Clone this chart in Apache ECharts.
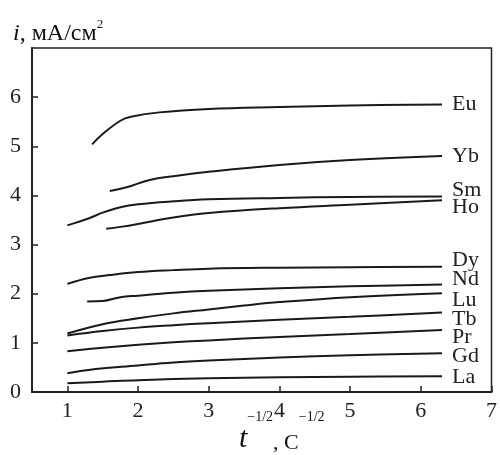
<!DOCTYPE html>
<html><head><meta charset="utf-8">
<script src="https://cdn.jsdelivr.net/npm/echarts@6/dist/echarts.min.js"></script>
<style>html,body{margin:0;padding:0;background:#fff}#c{width:500px;height:455px}</style>
</head><body><div id="c"></div>
<script>
const xTicks = [1, 2, 3, 4, 5, 6, 7];
const yTicks = [0, 1, 2, 3, 4, 5, 6];
const names = ['Eu','Yb','Sm','Ho','Dy','Nd','Lu','Tb','Pr','Gd','La'];
const Eu = [[1.35,5.04],[1.5,5.25],[1.75,5.52],[1.9,5.6],[2.3,5.69],[3,5.76],[4,5.8],[5,5.83],[6.3,5.85]];
const Yb = [[1.6,4.09],[1.85,4.17],[2.15,4.31],[2.55,4.40],[3,4.48],[4,4.62],[5,4.72],[6.3,4.8]];
const Sm = [[1,3.39],[1.15,3.46],[1.3,3.53],[1.5,3.65],[1.75,3.76],[2,3.82],[2.5,3.88],[3,3.92],[4,3.95],[5,3.97],[6.3,3.98]];
const Ho = [[1.55,3.32],[1.75,3.36],[2,3.42],[2.5,3.55],[3,3.64],[4,3.74],[5,3.81],[6.3,3.9]];
const Dy = [[1,2.2],[1.3,2.32],[1.6,2.38],[2,2.44],[2.5,2.48],[3,2.51],[4,2.53],[5,2.54],[6.3,2.55]];
const Nd = [[1.28,1.84],[1.5,1.85],[1.75,1.93],[2,1.96],[2.5,2.02],[3,2.06],[4,2.11],[5,2.15],[6.3,2.19]];
const Lu = [[1,1.19],[1.5,1.38],[2,1.5],[2.5,1.6],[3,1.68],[3.5,1.76],[4,1.83],[5,1.93],[6.3,2.01]];
const Tb = [[1,1.15],[1.5,1.24],[2,1.31],[2.5,1.36],[3,1.4],[4,1.47],[5,1.53],[6.3,1.62]];
const Pr = [[1,0.83],[1.5,0.9],[2,0.96],[2.5,1.01],[3,1.05],[4,1.12],[5,1.18],[6.3,1.26]];
const Gd = [[1,0.38],[1.3,0.45],[2,0.54],[2.5,0.6],[3,0.64],[4,0.7],[5,0.75],[6.3,0.79]];
const La = [[1,0.18],[1.5,0.21],[2,0.24],[3,0.28],[4,0.3],[5,0.31],[6.3,0.32]];
const seriesData = [Eu, Yb, Sm, Ho, Dy, Nd, Lu, Tb, Pr, Gd, La];
const labelDy = [0, 0, -6, 7, -6, -5, 7, 7, 7, 3, 1];

const FONT = "'Liberation Serif','Times New Roman',serif";
const base = {fontFamily: FONT, color: '#111', fontWeight: 'normal'};
const chart = echarts.init(document.getElementById('c'), null, {renderer: 'canvas'});
chart.setOption({
  animation: false,
  backgroundColor: '#fff',
  grid: {left: 32, right: 7, top: 48, bottom: 63, show: true, borderColor: '#222', borderWidth: 1.5, backgroundColor: 'transparent'},
  title: [
    {left: 8, top: 13, text: '{i|i}{n|, мА/см}{s|2}',
     textStyle: {fontWeight: 'normal', rich: {
       i: Object.assign({}, base, {fontStyle: 'italic', fontSize: 24, verticalAlign: 'bottom', lineHeight: 28}),
       n: Object.assign({}, base, {fontSize: 24, verticalAlign: 'bottom', lineHeight: 28}),
       s: Object.assign({}, base, {fontSize: 13, verticalAlign: 'top', lineHeight: 28})
     }}},
    {left: 234, top: 405, text: '{t|t}{s|−1/2}{n|, С}{s|−1/2}',
     textStyle: {fontWeight: 'normal', rich: {
       t: Object.assign({}, base, {fontStyle: 'italic', fontSize: 30, verticalAlign: 'bottom', lineHeight: 44}),
       n: Object.assign({}, base, {fontSize: 22, verticalAlign: 'bottom', lineHeight: 44}),
       s: Object.assign({}, base, {fontSize: 14, verticalAlign: 'top', lineHeight: 44})
     }}}
  ],
  xAxis: {
    type: 'value', min: 0.5, max: 7,
    axisLine: {show: true, lineStyle: {color: '#222', width: 2}},
    axisTick: {show: true, inside: true, length: 6, customValues: xTicks, lineStyle: {color: '#222', width: 1.5}},
    axisLabel: {customValues: xTicks, fontFamily: FONT, fontSize: 22, color: '#222', margin: 8},
    splitLine: {show: false}
  },
  yAxis: {
    type: 'value', min: 0, max: 7, interval: 1,
    axisLine: {show: true, lineStyle: {color: '#222', width: 2}},
    axisTick: {show: true, inside: true, length: 6, customValues: yTicks, lineStyle: {color: '#222', width: 1.5}},
    axisLabel: {customValues: yTicks, fontFamily: FONT, fontSize: 22, color: '#222', margin: 11},
    splitLine: {show: false}
  },
  series: seriesData.map((d, k) => ({
    name: names[k], type: 'line', data: d, smooth: 0.4, showSymbol: false, symbol: 'none',
    lineStyle: {color: '#1a1a1a', width: 2},
    endLabel: {show: true, formatter: '{a}', fontFamily: FONT, fontSize: 22, color: '#222', distance: 10, offset: [0, labelDy[k]]}
  }))
});
</script></body></html>
